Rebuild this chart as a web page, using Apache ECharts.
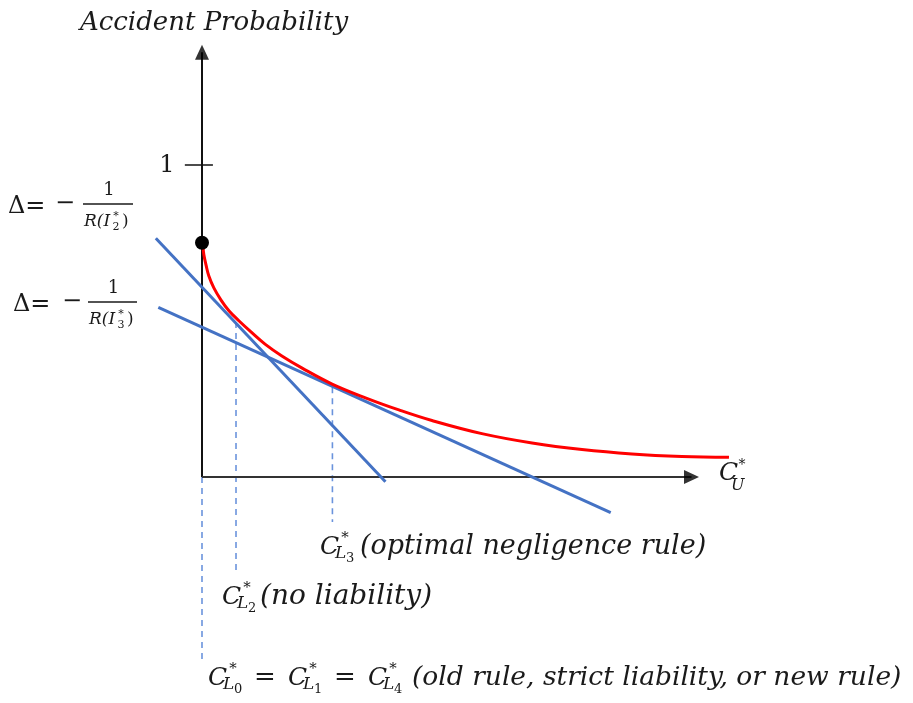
<!DOCTYPE html>
<html><head><meta charset="utf-8">
<script src="https://cdn.jsdelivr.net/npm/echarts@6/dist/echarts.min.js"></script>
<style>html,body{margin:0;padding:0;background:#fff}#c{width:913px;height:703px}</style>
</head><body><div id="c"></div>
<script>
// ---- data (chart units: y = accident probability, x = C_U* in arbitrary units) ----
const redCurveX = [0.003,0.006,0.013,0.022,0.038,0.061,0.087,0.119,0.157,0.202,0.256,0.321,0.417,0.526,0.631,0.737,0.897,1.058,1.218,1.378,1.538,1.689];
const redCurveY = [0.740,0.712,0.679,0.644,0.606,0.567,0.532,0.500,0.465,0.426,0.388,0.349,0.298,0.253,0.215,0.181,0.139,0.109,0.088,0.074,0.066,0.063];
const startPoint = [0, 0.751];
const tangentLine2X = [-0.148, 0.588];   // slope for R(I2*)
const tangentLine2Y = [0.765, -0.015];
const tangentLine3X = [-0.140, 1.310];   // slope for R(I3*)
const tangentLine3Y = [0.544, -0.114];
const dropLinesX = [0.109, 0.418, 0];          // C_L2*, C_L3*, C_L0*
const dropLinesTop = [0.497, 0.288, 0];
const dropLinesBottom = [-0.314, -0.144, -0.587];
const yAxisTop = 1.361;
const xAxisEnd = 1.569;
const yTicks = [1];
const yTickLabels = ['1'];

// ---- layout ----
const S = 312, X0 = 202, Y0 = 477;
const xMin = -0.64, xMax = 2.27, yMin = -0.72, yMax = 1.52;
const F = '"DejaVu Serif", serif';
const blue = '#4472c4', dashBlue = '#6a93dc';

const zip = (xs, ys) => xs.map((x, i) => [x, ys[i]]);
const series = [];

// drop (dashed) lines
dropLinesX.forEach((x, i) => {
  series.push({type:'line', data:[[x, dropLinesTop[i]], [x, dropLinesBottom[i]]], symbol:'none', silent:true,
    lineStyle:{color:dashBlue, width:1.6, type:[6,5]}, z:1});
});
// axes
series.push({type:'line', data:[[0,0],[0,yAxisTop]], symbol:'none', lineStyle:{color:'#111', width:2}, z:3});
series.push({type:'line', data:[[0,0],[xAxisEnd,0]], symbol:'none', lineStyle:{color:'#333', width:2}, z:3});
series.push({type:'scatter', data:[[0,yAxisTop]], symbol:'triangle', symbolSize:[14,15], itemStyle:{color:'#000'}, z:3});
series.push({type:'scatter', data:[[xAxisEnd,0]], symbol:'triangle', symbolSize:[14,15], symbolRotate:-90, itemStyle:{color:'#000'}, z:3});
// tick at 1
yTicks.forEach(t => {
  series.push({type:'line', data:[[-0.055,t],[0.035,t]], symbol:'none', lineStyle:{color:'#111', width:1.5}, z:3});
});
// tangent lines
series.push({type:'line', data:zip(tangentLine2X, tangentLine2Y), symbol:'none', lineStyle:{color:blue, width:3}, z:4});
series.push({type:'line', data:zip(tangentLine3X, tangentLine3Y), symbol:'none', lineStyle:{color:blue, width:3}, z:4});
// red curve
series.push({type:'line', data:zip(redCurveX, redCurveY), symbol:'none', smooth:0.4, lineStyle:{color:'#ff0000', width:3}, z:5});
// start dot
series.push({type:'scatter', data:[startPoint], symbol:'circle', symbolSize:14, itemStyle:{color:'#000', opacity:1}, z:6});

// ---- text annotations ----
const T = (text, x, y, size, opts = {}) => ({
  type:'text', x, y, z:10,
  style:{text, fill:'#1a1a1a', font:(opts.italic ? 'italic ' : '') + size + 'px ' + F,
    align:opts.align || 'left', verticalAlign:'middle'}
});
const CL = (x0, y, d) => [
  T('C', x0, y, 25, {italic:true}),
  T('L', x0 + 15, y + 7, 17, {italic:true}),
  T(d, x0 + 26, y + 12, 13),
  T('*', x0 + 25, y - 9, 15, {align:'center'})
];
const frac = (xd, y, xm, xb0, xb1, sub) => [
  T('\u0394=', xd, y + 3, 24),
  T('\u2212', xm, y, 24, {align:'center'}),
  T('1', (xb0 + xb1) / 2 + 1, y - 14, 18, {align:'center'}),
  {type:'line', z:10, shape:{x1:xb0, y1:y, x2:xb1, y2:y}, style:{stroke:'#1a1a1a', lineWidth:1.5}},
  T('R(I', xb0 + 1, y + 18, 17, {italic:true}),
  T('*', xb0 + 33, y + 12, 11, {align:'center'}),
  T(sub, xb0 + 33, y + 23, 11, {align:'center'}),
  T(')', xb0 + 39, y + 18, 17)
];
const graphic = [
  T('Accident Probability', 214, 23, 26, {italic:true, align:'center'}),
  T(yTickLabels[0], 167, 166, 24, {align:'center'}),
  ...frac(8, 204, 65, 83, 133, '2'),
  ...frac(13, 302, 72, 88, 137, '3'),
  T('C', 719, 473, 25, {italic:true}),
  T('U', 731, 486, 16, {italic:true}),
  T('*', 742, 465, 14, {align:'center'}),
  ...CL(320, 547, '3'), T('(optimal negligence rule)', 360, 547, 27, {italic:true}),
  ...CL(222, 597, '2'), T('(no liability)', 260, 597, 28, {italic:true}),
  ...CL(208, 678, '0'), T('=', 265, 678, 26, {align:'center'}),
  ...CL(288, 678, '1'), T('=', 345, 678, 26, {align:'center'}),
  ...CL(368, 678, '4'), T('(old rule, strict liability, or new rule)', 412, 678, 26.5, {italic:true})
];

const chart = echarts.init(document.getElementById('c'));
chart.setOption({
  animation:false,
  backgroundColor:'#fff',
  grid:{left:X0 + xMin * S, top:Y0 - yMax * S, width:(xMax - xMin) * S, height:(yMax - yMin) * S},
  xAxis:{type:'value', min:xMin, max:xMax, show:false},
  yAxis:{type:'value', min:yMin, max:yMax, show:false},
  series,
  graphic
});
</script></body></html>
